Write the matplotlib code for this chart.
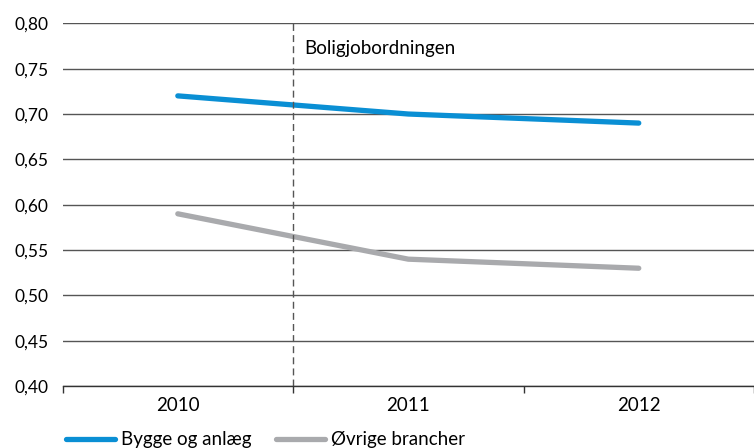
#!/usr/bin/env python3
# -*- coding: utf-8 -*-

import matplotlib
matplotlib.use("Agg")
import matplotlib.pyplot as plt
import numpy as np

plt.rcParams['font.family'] = ['Lato', 'DejaVu Sans']

# Data
years = ['2010', '2011', '2012']
bygge = [0.72, 0.70, 0.69]
oevrige = [0.59, 0.54, 0.53]
y_ticks = [0.40, 0.45, 0.50, 0.55, 0.60, 0.65, 0.70, 0.75, 0.80]
event_label = 'Boligjobordningen'

BLUE = '#0a8fd4'
GREY = '#a9aaad'

fig = plt.figure(figsize=(7.54, 4.48), dpi=100)
ax = fig.add_axes([0.083, 0.138, 0.917, 0.810])

x = np.arange(1, len(years) + 1)
ax.plot(x, bygge, color=BLUE, lw=3.8, solid_capstyle='round', label='Bygge og anlæg')
ax.plot(x, oevrige, color=GREY, lw=3.8, solid_capstyle='round', label='Øvrige brancher')

ax.set_xlim(0.5, len(years) + 0.5)
ax.set_ylim(0.40, 0.80)
ax.set_yticks(y_ticks)
ax.set_yticklabels([f'{v:.2f}'.replace('.', ',') for v in y_ticks], fontsize=12.5)
ax.yaxis.grid(True, color='#555555', lw=1)
ax.set_axisbelow(True)

ax.set_xticks(x)
ax.set_xticklabels(years, fontsize=13.5)
ax.set_xticks(np.arange(0.5, len(years) + 1), minor=True)
ax.tick_params(axis='x', which='major', length=0, pad=8)
ax.tick_params(axis='x', which='minor', length=5, color='#333333', width=1)
ax.tick_params(axis='y', length=0, pad=10)

for s in ['left', 'right', 'top']:
    ax.spines[s].set_visible(False)
ax.spines['bottom'].set_color('#333333')
ax.spines['bottom'].set_linewidth(1)

# event marker
ax.axvline(1.5, color='#555555', lw=1, ls=(0, (5, 3)))
ax.text(1.55, 0.772, event_label, fontsize=13.5, va='center', ha='left')

fig.legend(loc='lower left', bbox_to_anchor=(0.065, -0.038), ncol=2, frameon=False,
           fontsize=13.5, handlelength=2.6, columnspacing=1.3, handletextpad=0.35)

fig.savefig('out.png', dpi=100)
